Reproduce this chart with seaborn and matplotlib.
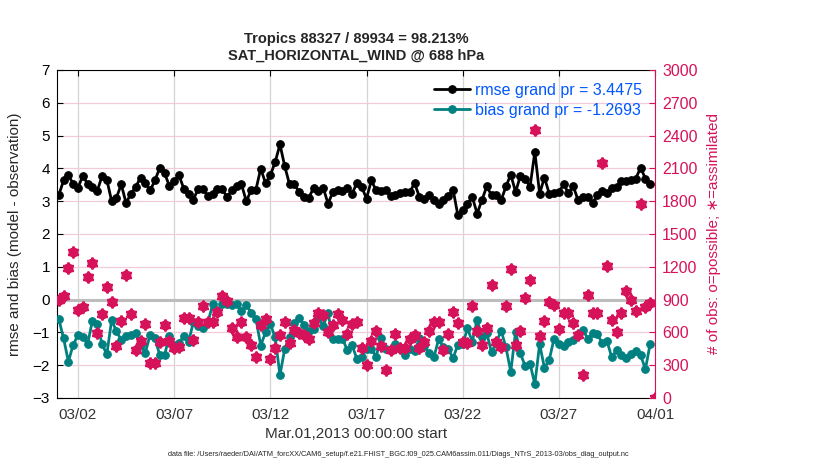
import numpy as np
import pandas as pd
import matplotlib
matplotlib.use("Agg")
import matplotlib.pyplot as plt
import matplotlib.dates as mdates
import seaborn as sns

# 6-hourly values, Mar.01,2013 00:00 onward
rmse = [3.18, 3.63, 3.79, 3.53, 3.41, 3.77, 3.53, 3.43, 3.31, 3.76, 3.65, 3.00, 3.11, 3.51, 2.94, 3.23,
        3.43, 3.72, 3.56, 3.33, 3.63, 4.02, 3.86, 3.46, 3.61, 3.79, 3.38, 3.23, 3.05, 3.38, 3.36, 3.15,
        3.23, 3.38, 3.36, 3.13, 3.33, 3.45, 3.51, 3.00, 3.33, 3.35, 3.99, 3.55, 3.79, 4.19, 4.73, 4.06,
        3.51, 3.51, 3.28, 3.13, 3.11, 3.40, 3.30, 3.41, 2.92, 3.28, 3.35, 3.30, 3.40, 3.23, 3.55, 3.43,
        3.08, 3.63, 3.33, 3.31, 3.35, 3.15, 3.20, 3.25, 3.28, 3.28, 3.55, 3.13, 3.08, 3.18, 3.05, 2.90,
        3.03, 3.15, 3.35, 2.57, 2.72, 2.92, 3.13, 2.62, 3.03, 3.45, 3.18, 3.18, 3.03, 3.45, 3.81, 3.28,
        3.77, 3.69, 3.43, 4.50, 3.23, 3.72, 3.23, 3.25, 3.28, 3.51, 3.25, 3.45, 3.03, 3.13, 3.13, 2.94,
        3.18, 3.31, 3.25, 3.40, 3.43, 3.61, 3.61, 3.65, 3.69, 4.02, 3.69, 3.51]

bias = [-0.59, -1.18, -1.89, -1.38, -1.08, -1.13, -1.36, -0.64, -0.74, -1.36, -1.67, -0.62, -0.97, -1.23,
        -1.10, -1.07, -1.02, -1.38, -1.62, -1.07, -1.18, -1.69, -1.69, -1.11, -1.38, -1.31, -1.12, -1.30,
        -0.67, -0.82, -0.87, -0.70, -0.15, -0.40, -0.12, -0.15, -0.18, -0.15, -0.36, -0.16, -0.40, -0.58,
        -1.40, -1.00, -0.75, -1.15, -2.30, -1.50, -1.13, -0.72, -0.56, -0.77, -0.97, -0.90, -0.55, -0.80,
        -0.41, -1.19, -1.19, -1.19, -1.54, -1.39, -1.81, -1.75, -1.50, -1.50, -1.74, -1.16, -1.50, -1.55,
        -1.36, -1.50, -1.70, -1.50, -1.58, -1.18, -1.42, -1.64, -1.76, -1.21, -1.46, -1.50, -1.79, -1.37,
        -1.36, -0.88, -1.28, -0.62, -1.13, -1.02, -1.61, -1.30, -0.95, -1.46, -2.20, -0.98, -1.64, -2.03,
        -1.95, -2.58, -1.36, -2.08, -1.84, -1.19, -1.36, -1.41, -1.28, -1.22, -1.06, -0.92, -1.19, -1.02,
        -1.04, -1.33, -1.26, -1.76, -1.54, -1.70, -1.77, -1.65, -1.57, -1.70, -2.12, -1.34]

n_obs = [896, 935, 1192, 1338, 805, 835, 1110, 1232, 591, 765, 1018, 881, 475, 704, 1125, 765,
         439, 521, 674, 323, 317, 509, 667, 521, 454, 470, 735, 735, 530, 692, 844, 698,
         692, 783, 933, 887, 637, 561, 692, 561, 485, 378, 667, 722, 357, 454, 576, 692,
         500, 622, 592, 576, 540, 683, 775, 759, 607, 668, 766, 713, 582, 674, 692, 454,
         302, 521, 613, 479, 256, 439, 582, 454, 454, 540, 576, 454, 509, 613, 692, 692,
         439, 582, 790, 683, 509, 500, 844, 613, 485, 643, 1033, 509, 470, 844, 1180, 485,
         613, 912, 1079, 2450, 570, 704, 881, 851, 631, 780, 780, 683, 576, 210, 942, 780,
         780, 2150, 1210, 713, 607, 780, 978, 893, 796, 1775, 835, 872, 0]

tick_days = ["2013-03-02", "2013-03-07", "2013-03-12", "2013-03-17", "2013-03-22", "2013-03-27", "2013-04-01"]
rmse_label = "rmse grand pr = 3.4475"
bias_label = "bias grand pr = -1.2693"

RED = "#D6135A"
TEAL = "#008080"
BLUE = "#0057FF"

df = pd.DataFrame({"time": pd.date_range("2013-03-01", periods=len(rmse), freq="6h"),
                   "rmse": rmse, "bias": bias})
df_obs = pd.DataFrame({"time": pd.date_range("2013-03-01", periods=len(n_obs), freq="6h"),
                       "nobs": n_obs})

sns.set_style("white")
plt.rcParams["font.family"] = ["Liberation Sans", "DejaVu Sans"]

fig = plt.figure(figsize=(8.3, 4.7), dpi=100)
ax = fig.add_axes([0.0687, 0.1532, 0.7205, 0.698])
ax2 = ax.twinx()

ax.axhline(0, color="#BDBDBD", lw=2.2, zorder=1)
sns.lineplot(data=df, x="time", y="rmse", ax=ax, color="black", lw=2, marker="o",
             markersize=5.5, markeredgecolor="black", label=rmse_label, zorder=3)
sns.lineplot(data=df, x="time", y="bias", ax=ax, color=TEAL, lw=2, marker="o",
             markersize=5.5, markeredgecolor=TEAL, label=bias_label, zorder=3)

# o=possible, *=assimilated (nearly identical counts, so the marks overlap)
sns.lineplot(data=df_obs, x="time", y="nobs", ax=ax2, linestyle="none", marker="o",
             markersize=5.5, markerfacecolor="none", markeredgecolor=RED, markeredgewidth=1.8,
             estimator=None)
sns.lineplot(data=df_obs, x="time", y="nobs", ax=ax2, linestyle="none", marker=(6, 2, 0),
             markersize=8.5, markeredgecolor=RED, markeredgewidth=1.6,
             estimator=None)

ax.set_xlim(pd.Timestamp("2013-02-28 21:50"), pd.Timestamp("2013-04-01 00:00"))
ax.set_ylim(-3, 7)
ax2.set_ylim(0, 3000)
ax.set_yticks(range(-3, 8))
ax2.set_yticks(range(0, 3001, 300))
ax.set_xticks(pd.to_datetime(tick_days))
ax.xaxis.set_major_formatter(mdates.DateFormatter("%m/%d"))

ax.set_axisbelow(True)
ax.grid(axis="x", color="#D5D5D5", lw=0.9)
ax.grid(axis="y", color="#F3CADB", lw=0.9)

ax.tick_params(direction="in", top=True, length=4, labelsize=11, colors="black", pad=5)
ax.tick_params(axis="x", labelcolor="#333333", pad=7)
ax2.tick_params(direction="in", length=4, labelsize=11.5, colors=RED, pad=5)
for s in ["left", "top", "bottom"]:
    ax.spines[s].set_color("black")
    ax.spines[s].set_linewidth(0.8)
    ax2.spines[s].set_visible(False)
ax.spines["right"].set_visible(False)
ax2.spines["right"].set_color(RED)
ax2.spines["right"].set_linewidth(0.8)

ax.set_xlabel("Mar.01,2013 00:00:00 start", fontsize=11, color="#333333", labelpad=4)
ax.set_ylabel("rmse and bias (model - observation)", fontsize=11, labelpad=8)
ax2.set_ylabel("# of obs: o=possible; \u2217=assimilated", fontsize=11, color=RED, labelpad=7)
ax.set_title("Tropics 88327 / 89934 = 98.213%\nSAT_HORIZONTAL_WIND @ 688 hPa",
             fontsize=10.5, fontweight="bold", pad=7, linespacing=1.3)

ax.legend(loc="upper right", bbox_to_anchor=(1.0, 1.0), frameon=False, labelcolor=BLUE,
          fontsize=11.5, handlelength=2.3, handletextpad=0.3, borderaxespad=0.4,
          labelspacing=0.3)

fig.text(0.48, 0.03, "data file: /Users/raeder/DAI/ATM_forcXX/CAM6_setup/f.e21.FHIST_BGC.f09_025."
         "CAM6assim.011/Diags_NTrS_2013-03/obs_diag_output.nc", ha="center", fontsize=5.3)

fig.savefig("out.png", dpi=100)
